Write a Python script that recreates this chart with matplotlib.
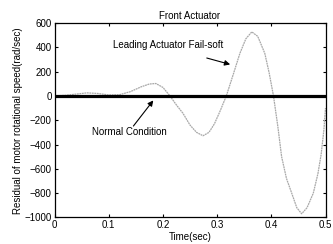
import matplotlib
matplotlib.use("Agg")
import matplotlib.pyplot as plt

plt.rcParams['font.family'] = ['Liberation Sans', 'DejaVu Sans']

time_s = [0, 0.02, 0.04, 0.06, 0.08, 0.10, 0.12, 0.14, 0.16, 0.175, 0.187, 0.20,
          0.213, 0.225, 0.237, 0.25, 0.262, 0.274, 0.285, 0.295, 0.305, 0.317,
          0.33, 0.342, 0.353, 0.364, 0.375, 0.388, 0.396, 0.404, 0.412, 0.419,
          0.428, 0.4376, 0.447, 0.456, 0.466, 0.4775, 0.486, 0.492, 0.497, 0.5]
fail_soft = [0, 5, 15, 25, 20, 8, 10, 35, 75, 98, 102, 70,
             0, -75, -143, -240, -300, -328, -300, -230, -130, 0,
             180, 350, 470, 527, 490, 350, 190, 0, -250, -500,
             -680, -800, -920, -970, -920, -800, -640, -480, -280, -100]
normal_t = [0, 0.5]
normal_v = [0, 0]

xticks = [0, 0.1, 0.2, 0.3, 0.4, 0.5]
yticks = [-1000, -800, -600, -400, -200, 0, 200, 400, 600]

fig = plt.figure(figsize=(3.33, 2.44), dpi=100)
ax = fig.add_axes([0.1637, 0.109, 0.8138, 0.7967])

ax.plot(time_s, fail_soft, color='#a8a8a8', lw=0.9, linestyle=(0, (1.5, 0.5)))
ax.plot(normal_t, normal_v, color='black', lw=2.3)

ax.set_xlim(0, 0.5)
ax.set_ylim(-1000, 600)
ax.set_xticks(xticks)
ax.set_xticklabels(['0', '0.1', '0.2', '0.3', '0.4', '0.5'])
ax.set_yticks(yticks)
ax.tick_params(direction='in', top=True, right=True, labelsize=7, length=2.5, width=0.8, pad=2)
for s in ax.spines.values():
    s.set_linewidth(0.9)

ax.set_title('Front Actuator', fontsize=7, pad=3)
ax.set_xlabel('Time(sec)', fontsize=7, labelpad=1)
ax.set_ylabel('Residual of motor rotational speed(rad/sec)', fontsize=7, labelpad=1)

ax.text(0.209, 417, 'Leading Actuator Fail-soft', fontsize=7, ha='center', va='center')
ax.annotate('', xy=(0.329, 253), xytext=(0.276, 318),
            arrowprops=dict(arrowstyle='-|>', color='black', lw=0.8, mutation_scale=8))
ax.text(0.139, -299, 'Normal Condition', fontsize=7, ha='center', va='center')
ax.annotate('', xy=(0.1854, -19), xytext=(0.1424, -266),
            arrowprops=dict(arrowstyle='-|>', color='black', lw=0.8, mutation_scale=8))

fig.savefig('out.png', dpi=100)
